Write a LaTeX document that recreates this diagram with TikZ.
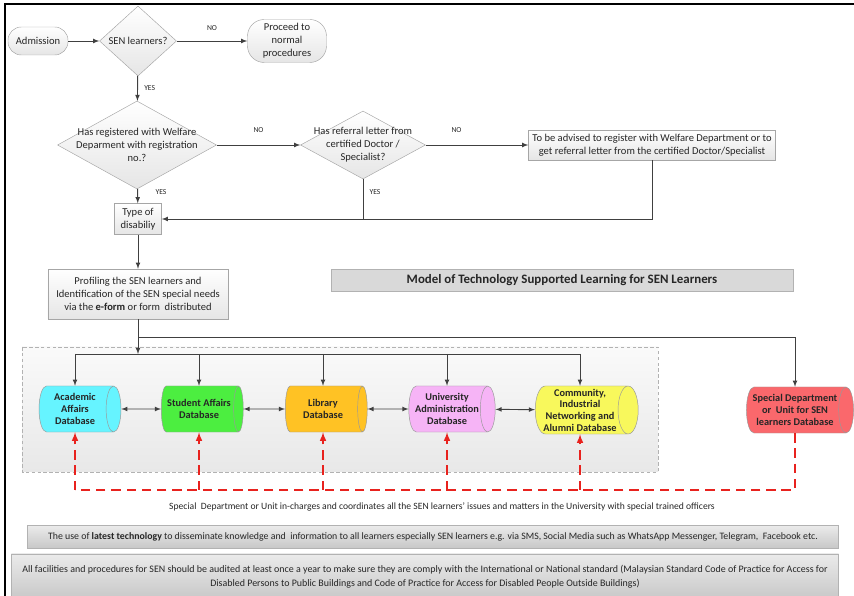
\documentclass[tikz,border=0pt]{standalone}
\usepackage{fontspec}
\setmainfont{Carlito}
\usetikzlibrary{arrows,shapes.geometric}
\definecolor{acadcol}{RGB}{102,244,255}
\definecolor{studcol}{RGB}{76,238,64}
\definecolor{libcol}{RGB}{255,194,36}
\definecolor{unicol}{RGB}{246,180,246}
\definecolor{commcol}{RGB}{248,248,92}
\definecolor{specol}{RGB}{250,104,108}
\definecolor{dashred}{RGB}{232,34,30}
\definecolor{linegray}{RGB}{64,64,64}

\begin{document}
\begin{tikzpicture}[x=0.03cm, y=-0.03cm, >=latex,
		every node/.style={font=\fontsize{9}{11}\selectfont, align=center, text=black!85},
		conn/.style={draw=linegray, line width=0.8pt},
		reddash/.style={draw=dashred, line width=1.5pt, dash pattern=on 8pt off 5pt},
		terminal/.style={draw=black!35, rectangle, rounded corners=0.4cm, top color=white, bottom color=black!10},
		decision/.style={draw=black!35, diamond, inner sep=-5mm, top color=white, bottom color=black!10},
		stepbox/.style={draw=black!35, rectangle, top color=white, bottom color=black!10},
		graybox/.style={draw=black!30, rectangle, top color=black!8, bottom color=black!22},
		dbase/.style={draw=black!40, cylinder, shape aspect=0.45, minimum height=2.46cm, minimum width=1.38cm, inner sep=1pt, font=\fontsize{8.8}{10}\selectfont\bfseries},
		tag/.style={font=\fontsize{6.5}{8}\selectfont}]
	\useasboundingbox (0,0) rectangle (854,596);
	\draw[line width=1.2pt] (5,600) -- (5,4) -- (854,4);

	\node[terminal, minimum width=1.8cm, minimum height=0.84cm] (adm) at (38,41) {Admission};
	\node[decision, minimum width=2.31cm, minimum height=2.1cm] (sen) at (138,41) {SEN learners?};
	\node[terminal, minimum width=2.37cm, minimum height=1.29cm, rounded corners=0.5cm] (proc) at (287,41) {Proceed to\\ normal\\ procedures};
	\node[decision, minimum width=4.77cm, minimum height=2.49cm] (welf) at (137,145) {Has registered with Welfare\\ Deparment with registration\\ no.?};
	\node[decision, minimum width=3.75cm, minimum height=2.04cm] (refer) at (363,145) {Has referral letter from\\ certified Doctor /\\ Specialist?};
	\node[stepbox, minimum width=7.08cm, minimum height=0.9cm] (advise) at (652,145) {To be advised to register with Welfare Department or to\\ get referral letter from the certified Doctor/Specialist};
	\node[stepbox, minimum width=1.41cm, minimum height=0.93cm, inner sep=1pt] (type) at (138,219) {Type of\\ disabiliy};
	\node[stepbox, minimum width=5.4cm, minimum height=1.5cm] (prof) at (138,294) {Profiling the SEN learners and\\ Identification of the SEN special needs\\ via the \textbf{e-form} or form\ \ distributed};
	\node[draw=black!30, fill=black!15, minimum width=13.86cm, minimum height=0.66cm, font=\fontsize{11}{13}\selectfont\bfseries] (title) at (562,280) {Model of Technology Supported Learning for SEN Learners};

	\draw[conn,->] (adm) -- (sen);
	\draw[conn,->] (sen) -- node[tag, above=5pt] (no1) {NO} (proc);
	\draw[conn,->] (sen) -- node[tag, right=2pt] (yes1) {YES} (welf);
	\draw[conn,->] (welf) -- node[tag, above=7pt] (no2) {NO} (refer);
	\draw[conn,->] (refer) -- node[tag, above=7pt, pos=0.3] (no3) {NO} (advise);
	\draw[conn,->] (welf) -- (type);
	\node[tag] (yes2) at (161,192) {YES};
	\node[tag] (yes3) at (375,192) {YES};
	\draw[conn,->] (advise.south) |- (type.east);
	\draw[conn] (refer.south) -- (refer.south |- type.east);
	\draw[conn,->] (type) -- (prof);

	\draw[black!30, densely dashed, top color=black!2, bottom color=black!9] (22,347) rectangle (658,472);
	\node[dbase, fill=acadcol] (acad) at (75,409) {Academic\\ Affairs\\ Database};
	\node[dbase, fill=studcol] (stud) at (199,409) {Student Affairs\\ Database};
	\node[dbase, fill=libcol] (lib) at (323,409) {Library\\ Database};
	\node[dbase, fill=unicol] (uni) at (447,409) {University\\ Administration\\ Database};
	\node[dbase, fill=commcol, minimum height=3.09cm, minimum width=1.44cm] (comm) at (580,410) {Community,\\ Industrial\\ Networking and\\ Alumni Database};
	\node[dbase, fill=specol, minimum height=3.2cm] (spec) at (795,410) {Special Department\\ or\ \ Unit for SEN\\ learners Database};

	\coordinate (fork) at (138,337);
	\coordinate (rail) at (138,354);
	\coordinate (redline) at (0,490);
	\draw[conn,->] (prof) -- (rail);
	\draw[conn,->] (fork) -| (spec.north);
	\draw[conn] (acad.north |- rail) -- (comm.north |- rail);
	\foreach \db in {acad,stud,lib,uni,comm}
		\draw[conn,->] (\db.north |- rail) -- (\db.north);
	\draw[conn,<->] (acad) -- (stud);
	\draw[conn,<->] (stud) -- (lib);
	\draw[conn,<->] (lib) -- (uni);
	\draw[conn,<->] (uni) -- (comm);

	\draw[reddash] (spec.south) -- (spec.south |- redline) -- (acad.south |- redline);
	\foreach \db in {acad,stud,lib,uni,comm}
		\draw[reddash,->] (\db.south |- redline) -- (\db.south);

	\node[font=\fontsize{8.2}{10}\selectfont] (caption) at (442,507) {Special\ \ Department or Unit in-charges and coordinates all the SEN learners’ issues and matters in the University with special trained officers};
	\node[graybox, minimum width=24.33cm, minimum height=0.69cm, font=\fontsize{8.4}{10}\selectfont] (tech) at (433,537) {The use of \textbf{latest technology} to disseminate knowledge and\ \ information to all learners especially SEN learners e.g. via SMS, Social Media such as WhatsApp Messenger, Telegram,\ \ Facebook etc.};
	\node[graybox, minimum width=24.81cm, minimum height=1.38cm, font=\fontsize{8.5}{12}\selectfont] (audit) at (425,577) {All facilities and procedures for SEN should be audited at least once a year to make sure they are comply with the International or National standard (Malaysian Standard Code of Practice for Access for\\ Disabled Persons to Public Buildings and Code of Practice for Access for Disabled People Outside Buildings)};
\end{tikzpicture}
\end{document}
